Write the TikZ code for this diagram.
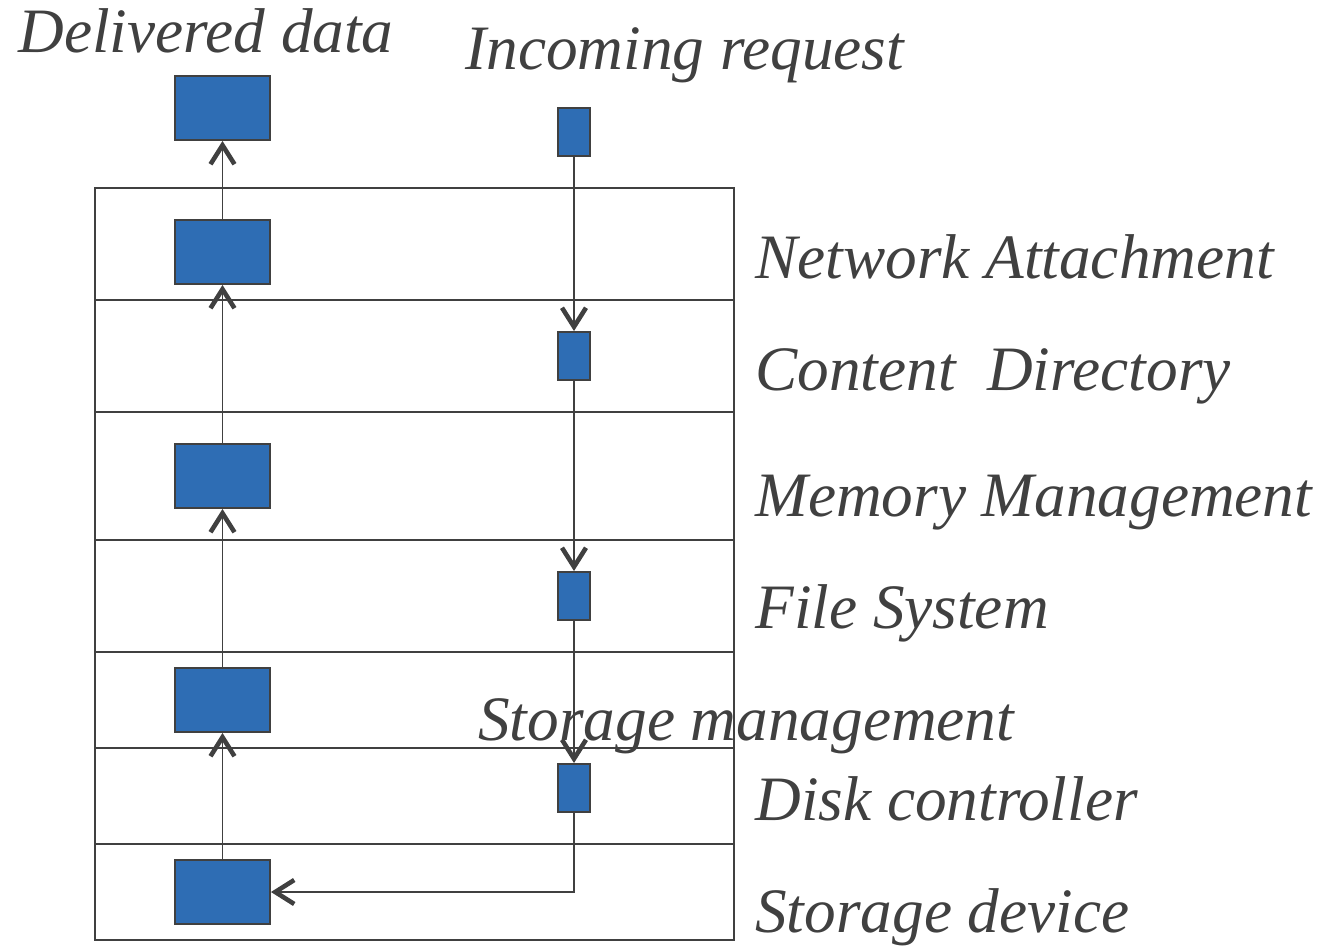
\documentclass[tikz,border=0pt]{standalone}
\usepackage{fontspec}
\newfontfamily\layerfont{Liberation Serif Italic}
\usetikzlibrary{arrows.meta, positioning}

\definecolor{blockblue}{HTML}{2E6DB4}
\definecolor{inkgray}{HTML}{404040}

\tikzset{
    bigblock/.style={draw=inkgray, line width=1.1pt, fill=blockblue, minimum width=1.9cm, minimum height=1.28cm, inner sep=0pt},
    smallblock/.style={draw=inkgray, line width=1.1pt, fill=blockblue, minimum width=0.64cm, minimum height=0.96cm, inner sep=0pt},
    layertext/.style={anchor=base west, inner sep=0pt, text=inkgray, font=\layerfont\fontsize{36}{40}\selectfont},
    flow/.style={draw=inkgray, line width=1.1pt, -{Straight Barb[length=3.8mm, width=4.8mm, line width=2.6pt]}}
}

\begin{document}
\begin{tikzpicture}[x=0.02cm, y=-0.02cm]
        \useasboundingbox (0,0) rectangle (1332,946);

        % layers
        \draw[inkgray, line width=1.1pt] (95,188) rectangle (734,940);
        \foreach \y in {300, 412, 540, 652, 748, 844}
            \draw[inkgray, line width=1.1pt] (95,\y) -- (734,\y);

        \node (deliv) [bigblock] at (222.5,108) {};
        \node (netL) [bigblock] at (222.5,252) {};
        \node (memL) [bigblock] at (222.5,476) {};
        \node (stoL) [bigblock] at (222.5,700) {};
        \node (devL) [bigblock] at (222.5,892) {};

        \node (req) [smallblock] at (574,132) {};
        \node (dirR) [smallblock] at (574,356) {};
        \node (fsR) [smallblock] at (574,596) {};
        \node (dkR) [smallblock] at (574,788) {};

        \path[flow]
        (netL) edge (deliv)
        (memL) edge (netL)
        (stoL) edge (memL)
        (devL) edge (stoL)
        (req) edge (dirR)
        (dirR) edge (fsR)
        (fsR) edge (dkR);
        \draw[flow] (dkR.south) |- (devL.east);

        \node (tdeliv) [layertext] at (18,53) {Delivered data};
        \node (treq) [layertext] at (465,70) {Incoming request};
        \node (tnet) [layertext] at (755,278) {Network Attachment};
        \node (tdir) [layertext] at (755,390) {Content\ \ Directory};
        \node (tmem) [layertext] at (755,516) {Memory Management};
        \node (tfs) [layertext] at (755,628) {File System};
        \node (tsto) [layertext] at (478,740) {Storage management};
        \node (tdisk) [layertext] at (755,820) {Disk controller};
        \node (tdev) [layertext] at (755,932) {Storage device};
\end{tikzpicture}
\end{document}
